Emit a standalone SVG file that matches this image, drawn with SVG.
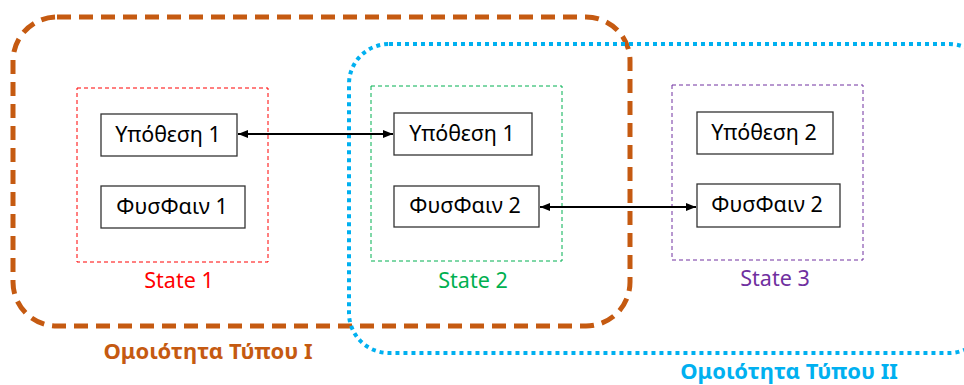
<svg xmlns="http://www.w3.org/2000/svg" width="964" height="385" viewBox="0 0 964 385">
<defs>
<marker id="ah" viewBox="0 0 10 10" refX="10" refY="5" markerWidth="10" markerHeight="10" markerUnits="userSpaceOnUse" orient="auto-start-reverse">
<path d="M0,1 L10,5 L0,9 Z" fill="#000"/>
</marker>
</defs>
<style>
text{font-family:"Noto Sans","Open Sans",sans-serif}
.node rect{fill:#fff;stroke:#333;stroke-width:1.3}
.node text{font-size:21.5px;fill:#000;text-anchor:middle}
.state{fill:none;stroke-width:1;stroke-dasharray:4,3}
.slabel{font-size:21.5px;text-anchor:middle}
.conn{stroke:#000;stroke-width:2;fill:none;marker-start:url(#ah);marker-end:url(#ah)}
.grp{font-size:22px;font-weight:bold;text-anchor:middle}
</style>
<rect width="964" height="385" fill="#fff"/>
<g id="type1">
<rect x="13" y="17" width="617" height="309" rx="44" ry="44" fill="none" stroke="#C55A11" stroke-width="5" stroke-dasharray="14,8"/>
<text class="grp" x="208" y="359" fill="#C55A11">Ομοιότητα Τύπου Ι</text>
</g>
<g id="type2">
<rect x="349" y="44" width="640" height="309" rx="40" ry="40" fill="none" stroke="#00B0F0" stroke-width="4" stroke-dasharray="4,4"/>
<text class="grp" x="789" y="379" fill="#00B0F0">Ομοιότητα Τύπου ΙΙ</text>
</g>
<g id="state1">
<rect class="state" x="77" y="88" width="191" height="174" stroke="#FF0000"/>
<text class="slabel" x="179" y="288" fill="#FF0000">State 1</text>
</g>
<g id="state2">
<rect class="state" x="371" y="86" width="191" height="175" stroke="#00B050"/>
<text class="slabel" x="473" y="288" fill="#00B050">State 2</text>
</g>
<g id="state3">
<rect class="state" x="672" y="85" width="191" height="175" stroke="#7030A0"/>
<text class="slabel" x="775" y="286" fill="#7030A0">State 3</text>
</g>
<g id="s1-hyp" class="node">
<rect x="101" y="114" width="136" height="42"/>
<text x="168" y="142">Υπόθεση 1</text>
</g>
<g id="s1-phys" class="node">
<rect x="101" y="186" width="144" height="42"/>
<text x="172" y="214">ΦυσΦαιν 1</text>
</g>
<g id="s2-hyp" class="node">
<rect x="394" y="113" width="138" height="42"/>
<text x="462" y="141">Υπόθεση 1</text>
</g>
<g id="s2-phys" class="node">
<rect x="394" y="186" width="145" height="41"/>
<text x="465" y="213">ΦυσΦαιν 2</text>
</g>
<g id="s3-hyp" class="node">
<rect x="697" y="112" width="136" height="42"/>
<text x="764" y="140">Υπόθεση 2</text>
</g>
<g id="s3-phys" class="node">
<rect x="697" y="184" width="143" height="43"/>
<text x="767" y="212">ΦυσΦαιν 2</text>
</g>
<g id="connectors">
<line class="conn" x1="238" y1="134" x2="393" y2="134"/>
<line class="conn" x1="540" y1="207" x2="696" y2="207"/>
</g>
</svg>
